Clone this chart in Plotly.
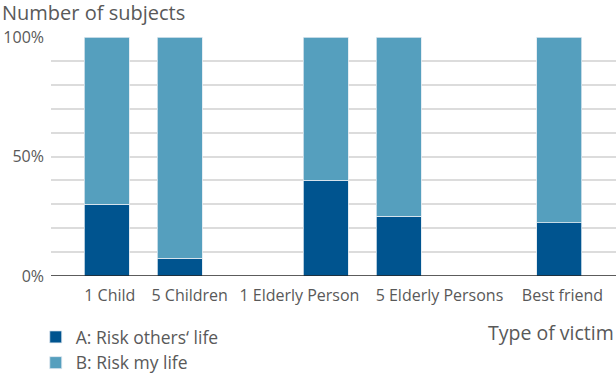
import plotly.graph_objects as go

categories = ["1 Child", "5 Children", "1 Elderly Person", "5 Elderly Persons", "Best friend"]
bar_slots = [0, 1, 3, 4, 6.2]
label_slots = [0.04, 1.135, 2.64, 4.56, 6.247]
risk_others = [30, 7.4, 40, 25, 22.2]
risk_mine = [100 - v for v in risk_others]
y_ticks = list(range(0, 101, 10))
y_ticktext = ["0%" if v == 0 else "50%" if v == 50 else "100%" if v == 100 else "" for v in y_ticks]

DARK = "#00548F"
LIGHT = "#559FBE"
TXT = "#595959"
FONT = "Open Sans"

fig = go.Figure()
fig.add_trace(go.Bar(x=bar_slots, y=risk_others, name="A: Risk others\u2018 life",
                     marker=dict(color=DARK, line=dict(color="#dfe9f0", width=0.8)),
                     width=0.617))
fig.add_trace(go.Bar(x=bar_slots, y=risk_mine, name="B: Risk my life",
                     marker=dict(color=LIGHT, line=dict(color="#dfe9f0", width=0.8)),
                     width=0.617))

fig.update_layout(
    barmode="stack",
    width=616, height=375,
    margin=dict(l=51, r=0, t=37, b=99),
    paper_bgcolor="white", plot_bgcolor="white",
    font=dict(family=FONT, color=TXT, size=15),
    showlegend=True,
    legend=dict(orientation="v", traceorder="normal", x=-0.027, xanchor="left",
                yref="container", y=1 - 319/375, yanchor="top",
                font=dict(size=17.5, color=TXT),
                bgcolor="rgba(0,0,0,0)", itemclick=False, tracegroupgap=0),
    xaxis=dict(range=[-0.767, 6.981], tickvals=label_slots, ticktext=categories,
               showgrid=False, zeroline=False, showline=False, ticks="",
               tickfont=dict(size=16, color=TXT), ticklabelstandoff=8),
    yaxis=dict(range=[0, 100], tickvals=y_ticks, ticktext=y_ticktext,
               showgrid=True, gridcolor="#dcdcdc", gridwidth=1.5, zeroline=False,
               showline=False, ticks="", tickfont=dict(size=16, color=TXT),
               ticklabelstandoff=6),
    annotations=[
        dict(text="Number of subjects", xref="paper", yref="paper", x=-51/565, y=1 + 24/239,
             xanchor="left", yanchor="middle", showarrow=False,
             font=dict(size=20, color=TXT, family=FONT)),
        dict(text="Type of victim", xref="paper", yref="paper", x=1.0, y=-56/239,
             xanchor="right", yanchor="middle", showarrow=False,
             font=dict(size=19.5, color=TXT, family=FONT)),
    ],
    shapes=[dict(type="line", xref="paper", yref="y", x0=0, x1=1, y0=0, y1=0,
                 line=dict(color="#262626", width=1.5))],
)

fig.write_html("out.html", config={"displayModeBar": False},
               post_script="document.body.style.margin='0';document.body.style.overflow='hidden';")
